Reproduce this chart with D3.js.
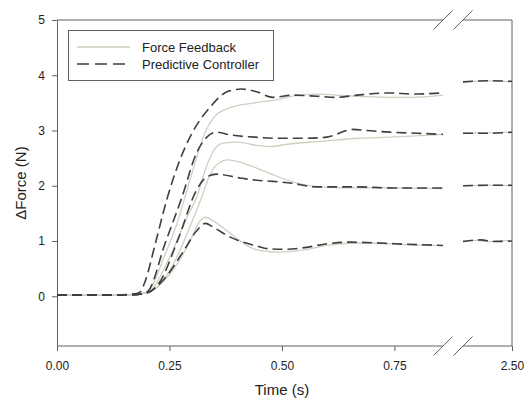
<!DOCTYPE html>
<html>
<head>
<meta charset="utf-8">
<script src="https://cdn.jsdelivr.net/npm/d3@7"></script>
<style>
  body { margin: 0; background: #fff; }
  text { font-family: "Liberation Sans", Arial, sans-serif; fill: #222; }
</style>
</head>
<body>
<div id="chart"></div>
<script>
// Force Feedback runs (solid), [time s, dForce N]
const feedback1 = [[0,0.02],[0.1,0.02],[0.17,0.03],[0.2,0.06],[0.22,0.15],[0.26,0.5],[0.296,1.0],[0.315,1.33],[0.33,1.43],[0.35,1.35],[0.385,1.14],[0.42,0.93],[0.444,0.84],[0.47,0.81],[0.49,0.8],[0.55,0.84],[0.6,0.92],[0.65,0.96],[0.7,0.96],[0.79,0.93],[0.858,0.92],
                   [2.391,1.0],[2.42,1.01],[2.45,0.99],[2.48,1.01],[2.5,1.0]];
const feedback2 = [[0,0.02],[0.1,0.02],[0.17,0.03],[0.2,0.06],[0.22,0.15],[0.26,0.6],[0.3,1.35],[0.322,1.8],[0.34,2.2],[0.355,2.38],[0.38,2.47],[0.41,2.42],[0.45,2.3],[0.48,2.2],[0.52,2.08],[0.555,2.01],[0.6,1.97],[0.7,1.96],[0.858,1.95],
                   [2.391,2.0],[2.45,2.01],[2.5,2.0]];
const feedback3 = [[0,0.02],[0.1,0.02],[0.17,0.03],[0.2,0.07],[0.21,0.12],[0.25,0.7],[0.29,1.45],[0.311,1.8],[0.33,2.3],[0.347,2.62],[0.369,2.77],[0.4,2.79],[0.444,2.73],[0.47,2.71],[0.52,2.76],[0.58,2.8],[0.67,2.86],[0.74,2.88],[0.858,2.93],
                   [2.391,2.95],[2.45,2.96],[2.5,2.97]];
const feedback4 = [[0,0.02],[0.1,0.02],[0.17,0.03],[0.2,0.08],[0.24,0.75],[0.27,1.4],[0.29,1.95],[0.31,2.5],[0.33,2.98],[0.35,3.25],[0.38,3.4],[0.44,3.5],[0.49,3.56],[0.53,3.63],[0.58,3.66],[0.62,3.64],[0.67,3.62],[0.74,3.6],[0.79,3.6],[0.858,3.64],
                   [2.391,3.88],[2.45,3.9],[2.5,3.88]];

// Predictive Controller runs (dashed)
const predictive1 = [[0,0.02],[0.1,0.02],[0.17,0.03],[0.2,0.06],[0.236,0.29],[0.28,0.8],[0.31,1.18],[0.33,1.32],[0.347,1.25],[0.385,1.07],[0.44,0.92],[0.47,0.86],[0.5,0.85],[0.55,0.88],[0.6,0.95],[0.65,0.98],[0.7,0.97],[0.75,0.95],[0.858,0.92],
                     [2.391,0.99],[2.43,1.02],[2.46,0.99],[2.5,1.0]];
const predictive2 = [[0,0.02],[0.1,0.02],[0.17,0.03],[0.2,0.06],[0.227,0.24],[0.27,1.05],[0.31,1.92],[0.333,2.16],[0.355,2.21],[0.407,2.14],[0.444,2.1],[0.48,2.08],[0.518,2.05],[0.578,1.98],[0.66,1.98],[0.75,1.96],[0.858,1.96],
                     [2.391,2.0],[2.45,2.01],[2.5,2.01]];
const predictive3 = [[0,0.02],[0.1,0.02],[0.17,0.03],[0.19,0.05],[0.203,0.1],[0.24,0.95],[0.278,1.8],[0.31,2.59],[0.333,2.88],[0.355,2.97],[0.385,2.92],[0.44,2.88],[0.48,2.86],[0.555,2.86],[0.6,2.88],[0.658,3.02],[0.69,3.0],[0.74,2.97],[0.8,2.95],[0.858,2.93],
                     [2.391,2.95],[2.45,2.95],[2.5,2.97]];
const predictive4 = [[0,0.02],[0.1,0.02],[0.17,0.04],[0.185,0.08],[0.195,0.25],[0.22,1.0],[0.244,1.75],[0.27,2.4],[0.3,2.95],[0.34,3.42],[0.378,3.7],[0.41,3.75],[0.444,3.7],[0.48,3.6],[0.525,3.64],[0.578,3.62],[0.62,3.6],[0.667,3.64],[0.74,3.68],[0.79,3.66],[0.858,3.68],
                     [2.391,3.88],[2.45,3.9],[2.5,3.89]];

const xTicks = [0, 0.25, 0.5, 0.75, 2.5];
const yTicks = [0, 1, 2, 3, 4, 5];
const breakStart = 0.858, breakEnd = 2.391;
const legendLabels = ["Force Feedback", "Predictive Controller"];

let width = 525, height = 400;
let margin = {top: 20, right: 13, bottom: 54, left: 57};
let w = width - margin.left - margin.right;
let h = height - margin.top - margin.bottom;

let svg = d3.select("#chart").append("svg")
    .attr("width", width)
    .attr("height", height);
let g = svg.append("g").attr("transform", `translate(${margin.left},${margin.top})`);

// broken x axis: two linear pieces with a gap
let x = d3.scaleLinear()
    .domain([0, breakStart, breakEnd, 2.5])
    .range([0, 386, 406, w]);
let y = d3.scaleLinear().domain([-0.9, 5]).range([h, 0]);

let line = d3.line()
    .x(d => x(d[0]))
    .y(d => y(d[1]))
    .curve(d3.curveMonotoneX);

function pieces(data) {
  return [data.filter(d => d[0] <= breakStart), data.filter(d => d[0] >= breakEnd)];
}

const axisColor = "#606060";
const feedbackColor = "#cfcfc2";
const predictiveColor = "#3f3f3f";

// frame: top and bottom lines with gaps for the break, right line
let gapL = x(breakStart), gapR = x(breakEnd);
[[0, gapL], [gapR, w]].forEach(s => {
  g.append("line").attr("x1", s[0]).attr("x2", s[1]).attr("y1", 0).attr("y2", 0)
    .attr("stroke", axisColor);
  g.append("line").attr("x1", s[0]).attr("x2", s[1]).attr("y1", h).attr("y2", h)
    .attr("stroke", axisColor);
});
g.append("line").attr("x1", w).attr("x2", w).attr("y1", 0).attr("y2", h).attr("stroke", axisColor);

// x axis ticks
let xAxis = g.append("g")
  .attr("transform", `translate(0,${h})`)
  .call(d3.axisBottom(x).tickValues(xTicks).tickFormat(d3.format(".2f")).tickSize(5).tickSizeOuter(0));
xAxis.select(".domain").remove();
xAxis.selectAll("line").attr("stroke", axisColor);
xAxis.selectAll("text").attr("dy", null).attr("y", 24).style("font-size", "12px")
  .style("font-family", "'Liberation Sans', Arial, sans-serif").attr("fill", "#222");

// y axis
let yAxis = g.append("g")
  .call(d3.axisLeft(y).tickValues(yTicks).tickFormat(d3.format("d")).tickSize(5).tickSizeOuter(0));
yAxis.select(".domain").attr("stroke", axisColor);
yAxis.selectAll("line").attr("stroke", axisColor);
yAxis.selectAll("text").attr("x", -12).style("font-size", "12px")
  .style("font-family", "'Liberation Sans', Arial, sans-serif").attr("fill", "#222");

// break marks
[gapL, gapR].forEach(cx => {
  [0, h].forEach(cy => {
    g.append("line")
      .attr("x1", cx - 9.5).attr("y1", cy + 9.5)
      .attr("x2", cx + 9.5).attr("y2", cy - 9.5)
      .attr("stroke", axisColor);
  });
});

// curves
const feedback = [feedback1, feedback2, feedback3, feedback4];
const predictive = [predictive1, predictive2, predictive3, predictive4];

feedback.forEach(s => {
  pieces(s).forEach(p => {
    g.append("path").attr("d", line(p))
      .attr("fill", "none")
      .attr("stroke", feedbackColor)
      .attr("stroke-width", 1.3);
  });
});
predictive.forEach(s => {
  pieces(s).forEach(p => {
    g.append("path").attr("d", line(p))
      .attr("fill", "none")
      .attr("stroke", predictiveColor)
      .attr("stroke-width", 1.6)
      .attr("stroke-dasharray", "10,5");
  });
});

// axis titles
svg.append("text")
  .attr("x", margin.left + x(0.5)).attr("y", 395)
  .attr("text-anchor", "middle")
  .style("font-size", "15px")
  .text("Time (s)");
svg.append("text")
  .attr("transform", "translate(26,183) rotate(-90)")
  .attr("text-anchor", "middle")
  .style("font-size", "15px")
  .text("ΔForce (N)");

// legend
let lg = svg.append("g");
lg.append("rect")
  .attr("x", 68.5).attr("y", 30.5).attr("width", 205).attr("height", 50)
  .attr("fill", "#fff").attr("stroke", axisColor);
lg.append("line").attr("x1", 77).attr("x2", 130).attr("y1", 47).attr("y2", 47)
  .attr("stroke", feedbackColor).attr("stroke-width", 1.3);
lg.append("line").attr("x1", 77).attr("x2", 130).attr("y1", 64).attr("y2", 64)
  .attr("stroke", predictiveColor).attr("stroke-width", 1.6).attr("stroke-dasharray", "12,6");
legendLabels.forEach((t, i) => {
  lg.append("text").attr("x", 142).attr("y", 52 + i * 16.5)
    .style("font-size", "13px").text(t);
});
</script>
</body>
</html>
